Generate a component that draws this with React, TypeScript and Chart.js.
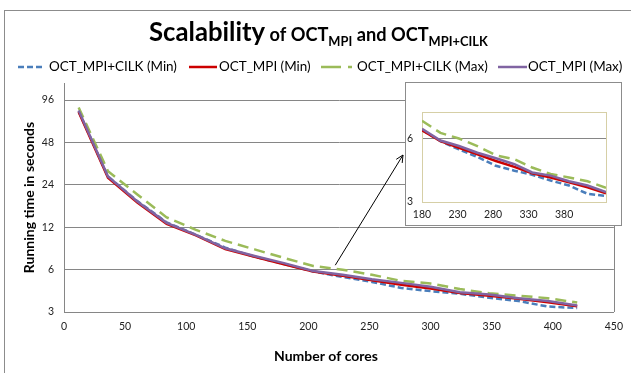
import React, { useEffect, useRef } from 'react';
import { Chart, registerables } from 'chart.js';
Chart.register(...registerables);

const FONT = 'Lato, "Liberation Sans", sans-serif';

// Number of cores (x values of the main chart)
const cores = [12, 36, 60, 84, 108, 132, 156, 180, 204, 228, 252, 276, 300, 324, 348, 372, 396, 420];
// Running time in seconds
const cilkMin = [80, 27.5, 18.4, 13.0, 10.6, 8.6, 7.4, 6.58, 5.82, 5.32, 4.9, 4.45, 4.22, 4.04, 3.79, 3.59, 3.28, 3.2];
const mpiMin = [79, 27, 18.0, 12.7, 10.5, 8.4, 7.4, 6.55, 5.82, 5.42, 5.04, 4.69, 4.4, 4.1, 3.92, 3.72, 3.52, 3.3];
const cilkMax = [85, 30, 20.5, 14.1, 11.5, 9.6, 8.35, 7.27, 6.37, 5.99, 5.52, 4.99, 4.78, 4.37, 4.07, 3.92, 3.76, 3.5];
const mpiMax = [81, 27.5, 18.3, 12.9, 10.6, 8.5, 7.5, 6.67, 5.86, 5.52, 5.13, 4.83, 4.53, 4.14, 4.0, 3.76, 3.59, 3.34];

// Tick labels
const yTicks = [3, 6, 12, 24, 48, 96];
const insetXTicks = [180, 230, 280, 330, 380];
const insetYTicks = [3, 6];
// x positions of the zoomed points as read on the inset's own axis
const insetCores = [180, 206, 232, 258, 284, 310, 335, 361, 387, 413, 439];
const insetStart = 7; // index of 180 cores in the main arrays

const labels = ['OCT_MPI+CILK (Min)', 'OCT_MPI (Min)', 'OCT_MPI+CILK (Max)', 'OCT_MPI (Max)'];
const seriesValues = [cilkMin, mpiMin, cilkMax, mpiMax];
const styles = [
  { color: '#4a7ebb', dash: [6, 3], order: 3 },
  { color: '#cc0000', dash: [] as number[], order: 2 },
  { color: '#9bbb59', dash: [11, 6], order: 1 },
  { color: '#8064a2', dash: [] as number[], order: 0 },
];

function pts(xs: number[], ys: number[]) {
  return xs.map((x, i) => ({ x, y: ys[i] }));
}

function makeDatasets(xs: number[], start: number) {
  return seriesValues.map((vals, i) => ({
    label: labels[i],
    data: pts(xs, vals.slice(start)),
    borderColor: styles[i].color,
    backgroundColor: styles[i].color,
    borderDash: styles[i].dash,
    borderWidth: 2.5,
    pointRadius: 0,
    tension: 0,
    order: styles[i].order,
    fill: false,
  }));
}

const mainDecor = {
  id: 'mainDecor',
  beforeDraw(chart: any) {
    const ctx = chart.ctx;
    ctx.save();
    ctx.fillStyle = '#fff';
    ctx.fillRect(0, 0, chart.width, chart.height);
    ctx.restore();
  },
  afterDraw(chart: any) {
    const ctx = chart.ctx;
    const area = chart.chartArea;
    ctx.save();
    // outer frame
    ctx.strokeStyle = '#8c8c8c';
    ctx.lineWidth = 1;
    ctx.strokeRect(4.5, 10.5, 800, 600);
    // right border of plot
    ctx.beginPath();
    ctx.moveTo(Math.round(area.right) + 0.5, area.top);
    ctx.lineTo(Math.round(area.right) + 0.5, area.bottom);
    ctx.strokeStyle = '#868686';
    ctx.stroke();

    // Title with subscripts
    const parts = [
      { t: 'Scalability', s: 24, dy: 0 },
      { t: ' of OCT', s: 17, dy: 0 },
      { t: 'MPI', s: 12, dy: 5 },
      { t: ' and OCT', s: 17, dy: 0 },
      { t: 'MPI+CILK', s: 12, dy: 5 },
    ];
    let total = 0;
    for (const p of parts) {
      ctx.font = `bold ${p.s}px ${FONT}`;
      total += ctx.measureText(p.t).width;
    }
    const k = 339 / total;
    let x = 318.5 - 339 / 2;
    ctx.fillStyle = '#000';
    ctx.textBaseline = 'alphabetic';
    ctx.textAlign = 'left';
    for (const p of parts) {
      ctx.font = `bold ${p.s * k}px ${FONT}`;
      ctx.fillText(p.t, x, 41 + p.dy);
      x += ctx.measureText(p.t).width;
    }

    // Legend
    ctx.font = `13px ${FONT}`;
    const w0 = ctx.measureText(labels[0]).width;
    const ls = (13 * 128) / w0;
    ctx.font = `${ls}px ${FONT}`;
    const legendItems = [
      { x1: 18, x2: 42, tx: 49, dash: [6, 3] },
      { x1: 189, x2: 217, tx: 219, dash: [] as number[] },
      { x1: 321, x2: 353, tx: 357, dash: [20, 7, 4, 30] },
      { x1: 498, x2: 527, tx: 528, dash: [] as number[] },
    ];
    const ly = 67;
    legendItems.forEach((it, i) => {
      ctx.beginPath();
      ctx.setLineDash(it.dash);
      ctx.strokeStyle = styles[i].color;
      ctx.lineWidth = 2.5;
      ctx.moveTo(it.x1, ly);
      ctx.lineTo(it.x2, ly);
      ctx.stroke();
      ctx.setLineDash([]);
      ctx.fillStyle = '#000';
      ctx.textBaseline = 'middle';
      ctx.fillText(labels[i], it.tx, ly);
    });

    // x axis title
    ctx.font = `bold 14px ${FONT}`;
    ctx.textAlign = 'center';
    ctx.textBaseline = 'middle';
    ctx.fillStyle = '#000';
    ctx.fillText('Number of cores', 326, 356);

    // Arrow from the curve to the inset
    const xs = chart.scales.x;
    const ys = chart.scales.y;
    const sx = xs.getPixelForValue(222);
    const sy = ys.getPixelForValue(6.45);
    const ex = 403;
    const ey = 155;
    ctx.strokeStyle = '#000';
    ctx.lineWidth = 1;
    ctx.beginPath();
    ctx.moveTo(sx, sy);
    ctx.lineTo(ex, ey);
    const ang = Math.atan2(ey - sy, ex - sx);
    const hl = 8;
    ctx.moveTo(ex, ey);
    ctx.lineTo(ex - hl * Math.cos(ang - 0.45), ey - hl * Math.sin(ang - 0.45));
    ctx.moveTo(ex, ey);
    ctx.lineTo(ex - hl * Math.cos(ang + 0.45), ey - hl * Math.sin(ang + 0.45));
    ctx.stroke();
    ctx.restore();
  },
};

const insetDecor = {
  id: 'insetDecor',
  beforeDraw(chart: any) {
    const ctx = chart.ctx;
    ctx.save();
    ctx.fillStyle = '#fff';
    ctx.fillRect(0, 0, chart.width, chart.height);
    ctx.strokeStyle = '#8c8c8c';
    ctx.lineWidth = 1;
    ctx.strokeRect(0.5, 0.5, chart.width - 1, chart.height - 1);
    ctx.restore();
  },
  beforeDatasetsDraw(chart: any) {
    const ctx = chart.ctx;
    const a = chart.chartArea;
    ctx.save();
    ctx.strokeStyle = '#d6cfa6';
    ctx.lineWidth = 1;
    ctx.strokeRect(Math.round(a.left) + 0.5, Math.round(a.top) + 0.5, Math.round(a.right - a.left), Math.round(a.bottom - a.top));
    ctx.restore();
  },
};

export default function App() {
  const mainRef = useRef<HTMLCanvasElement>(null);
  const insetRef = useRef<HTMLCanvasElement>(null);

  useEffect(() => {
    const tickFont = { family: FONT, size: 10.5 };
    const main = new Chart(mainRef.current as HTMLCanvasElement, {
      type: 'line',
      data: { datasets: makeDatasets(cores, 0) as any },
      options: {
        responsive: false,
        animation: false,
        layout: { padding: { left: 0, top: 83, right: 10, bottom: 0 } },
        plugins: { legend: { display: false }, tooltip: { enabled: false }, title: { display: false } },
        scales: {
          x: {
            type: 'linear',
            min: 0,
            max: 450,
            ticks: { stepSize: 50, font: tickFont, color: '#222', padding: 8 },
            grid: { display: false, drawTicks: false },
            border: { display: true, color: '#868686', width: 1 },
            afterFit: (s: any) => {
              s.height = 61;
            },
          },
          y: {
            type: 'logarithmic',
            min: 3,
            max: 127,
            afterBuildTicks: (s: any) => {
              s.ticks = yTicks.map((v) => ({ value: v }));
            },
            ticks: { font: tickFont, color: '#222', padding: 10, callback: (v: any) => String(v) },
            grid: { color: '#868686', drawTicks: false },
            border: { display: true, color: '#868686', width: 1 },
            title: {
              display: true,
              text: 'Running time in seconds',
              font: { family: FONT, size: 14, weight: 'bold' },
              color: '#000',
              padding: { top: 21, bottom: 0 },
            },
            afterFit: (s: any) => {
              s.width = 64;
            },
          },
        },
      } as any,
      plugins: [mainDecor],
    });

    const inset = new Chart(insetRef.current as HTMLCanvasElement, {
      type: 'line',
      data: { datasets: makeDatasets(insetCores, insetStart) as any },
      options: {
        responsive: false,
        animation: false,
        layout: { padding: { left: 0, top: 30, right: 16, bottom: 0 } },
        plugins: { legend: { display: false }, tooltip: { enabled: false } },
        scales: {
          x: {
            type: 'linear',
            min: 180,
            max: 439,
            afterBuildTicks: (s: any) => {
              s.ticks = insetXTicks.map((v) => ({ value: v }));
            },
            ticks: { font: tickFont, color: '#222', padding: 6 },
            grid: { display: false, drawTicks: false },
            border: { display: false },
            afterFit: (s: any) => {
              s.height = 24;
            },
          },
          y: {
            type: 'logarithmic',
            min: 3,
            max: 8,
            afterBuildTicks: (s: any) => {
              s.ticks = insetYTicks.map((v) => ({ value: v }));
            },
            ticks: { font: tickFont, color: '#222', padding: 9, callback: (v: any) => String(v) },
            grid: {
              drawTicks: false,
              color: (c: any) => (c.tick && c.tick.value === 6 ? '#868686' : 'rgba(0,0,0,0)'),
            },
            border: { display: false },
            afterFit: (s: any) => {
              s.width = 17;
            },
          },
        },
      } as any,
      plugins: [insetDecor],
    });

    return () => {
      main.destroy();
      inset.destroy();
    };
  }, []);

  return (
    <div style={{ position: 'absolute', left: 0, top: 0, width: 631, height: 373, overflow: 'hidden', background: '#fff' }}>
      <canvas ref={mainRef} width={631} height={373} style={{ position: 'absolute', left: 0, top: 0 }} />
      <canvas ref={insetRef} width={217} height={144} style={{ position: 'absolute', left: 405, top: 82 }} />
    </div>
  );
}
